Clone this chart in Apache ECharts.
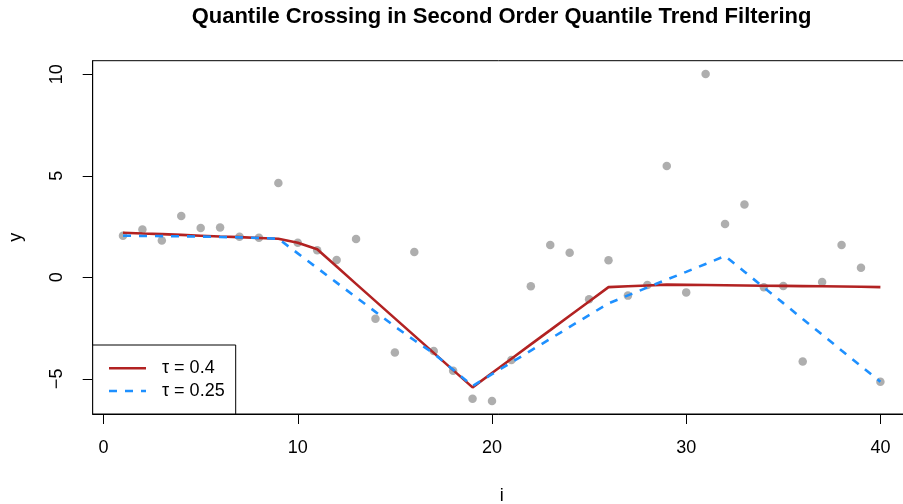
<!DOCTYPE html>
<html>
<head>
<meta charset="utf-8">
<script src="https://cdn.jsdelivr.net/npm/echarts@6/dist/echarts.min.js"></script>
<style>
html,body{margin:0;padding:0;background:#fff;}
#chart{width:903px;height:504px;}
</style>
</head>
<body>
<div id="chart"></div>
<script>
// Index values
const idx = [1,2,3,4,5,6,7,8,9,10,11,12,13,14,15,16,17,18,19,20,21,22,23,24,25,26,27,28,29,30,31,32,33,34,35,36,37,38,39,40];
// Observed points
const yObs = [2.05,2.36,1.82,3.02,2.43,2.46,2.00,1.95,4.65,1.70,1.34,0.85,1.89,-2.04,-3.70,1.25,-3.63,-4.60,-5.98,-6.09,
              -4.07,-0.44,1.59,1.21,-1.08,0.84,-0.90,-0.38,5.48,-0.74,10.01,2.63,3.59,-0.49,-0.43,-4.15,-0.23,1.59,0.47,-5.14];
// Fitted quantile trend, tau = 0.4
const fit040 = [2.20,2.16,2.13,2.09,2.05,2.01,1.98,1.94,1.90,1.70,1.38,0.53,-0.32,-1.17,-2.02,-2.87,-3.72,-4.57,-5.42,-4.71,
                -4.01,-3.30,-2.60,-1.89,-1.19,-0.48,-0.44,-0.40,-0.36,-0.37,-0.38,-0.39,-0.40,-0.41,-0.42,-0.43,-0.44,-0.45,-0.46,-0.48];
// Fitted quantile trend, tau = 0.25
const fit025 = [2.05,2.04,2.03,2.02,2.01,1.99,1.97,1.94,1.90,1.18,0.46,-0.26,-0.98,-1.70,-2.42,-3.10,-3.75,-4.55,-5.35,-4.77,
                -4.19,-3.61,-3.03,-2.44,-1.86,-1.28,-0.89,-0.50,-0.11,0.27,0.66,1.05,0.28,-0.50,-1.27,-2.05,-2.82,-3.60,-4.37,-5.14];
const xTicks = [0,10,20,30,40];
const yTicks = [-5,0,5,10];
const legendLabels = ['\u03C4 = 0.4', '\u03C4 = 0.25'];
const titleText = 'Quantile Crossing in Second Order Quantile Trend Filtering';

const FONT = 'Liberation Sans, Arial, Helvetica, sans-serif';
const chart = echarts.init(document.getElementById('chart'), null, {renderer:'canvas'});
const pairs = (ys) => idx.map((x,i)=>[x, ys[i]]);
const minusFmt = (v) => String(v).replace('-', '\u2212');

chart.setOption({
  animation:false,
  backgroundColor:'#ffffff',
  grid:{left:92.7, top:60.7, width:818, height:353.3, outerBoundsMode:'none', containLabel:false,
        show:true, borderColor:'#000', borderWidth:1, backgroundColor:'transparent'},
  xAxis:{
    type:'value', min:-0.56, max:41.56,
    name:'i', nameLocation:'middle', nameGap:73,
    nameTextStyle:{fontFamily:FONT, fontSize:18, color:'#000'},
    axisLine:{show:true, onZero:false, lineStyle:{color:'#000', width:1}},
    axisTick:{show:true, inside:false, length:10, customValues:xTicks, lineStyle:{color:'#000'}},
    axisLabel:{show:true, margin:25, customValues:xTicks, formatter:minusFmt, fontFamily:FONT, fontSize:18, color:'#000'},
    splitLine:{show:false}
  },
  yAxis:{
    type:'value', min:-6.73, max:10.67,
    name:'y', nameLocation:'middle', nameGap:68, nameRotate:90,
    nameTextStyle:{fontFamily:FONT, fontSize:18, color:'#000'},
    axisLine:{show:true, onZero:false, lineStyle:{color:'#000', width:1}},
    axisTick:{show:true, inside:false, length:10, customValues:yTicks, lineStyle:{color:'#000'}},
    axisLabel:{show:true, rotate:90, margin:27, customValues:yTicks, formatter:minusFmt, fontFamily:FONT, fontSize:18, color:'#000'},
    splitLine:{show:false}
  },
  series:[
    {type:'scatter', data:pairs(yObs), symbol:'circle', symbolSize:8.5, itemStyle:{color:'#9a9a9a'}, z:2},
    {type:'line', data:pairs(fit040), showSymbol:false, symbol:'none', lineStyle:{color:'#B22222', width:2.6}, z:3},
    {type:'line', data:pairs(fit025), showSymbol:false, symbol:'none', lineStyle:{color:'#1E90FF', width:2.6, type:[8,8]}, z:4}
  ],
  graphic:[
    {type:'text', x:501.5, y:17, z:10, style:{text:titleText, font:'bold 22px '+FONT, fill:'#000', align:'center', verticalAlign:'middle'}},
    {type:'rect', shape:{x:92.7, y:345, width:143, height:69}, style:{fill:'#fff', stroke:'#000', lineWidth:1}, z:20},
    {type:'line', shape:{x1:109, y1:368.3, x2:146, y2:368.3}, style:{stroke:'#B22222', lineWidth:2.6}, z:21},
    {type:'line', shape:{x1:109, y1:391, x2:146, y2:391}, style:{stroke:'#1E90FF', lineWidth:2.6, lineDash:[8,8]}, z:21},
    {type:'text', x:162, y:368.3, z:21, style:{text:legendLabels[0], font:'18px '+FONT, fill:'#000', align:'left', verticalAlign:'middle'}},
    {type:'text', x:162, y:391, z:21, style:{text:legendLabels[1], font:'18px '+FONT, fill:'#000', align:'left', verticalAlign:'middle'}}
  ]
});
</script>
</body>
</html>
